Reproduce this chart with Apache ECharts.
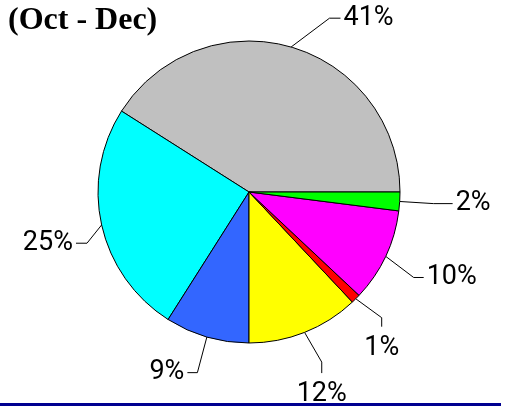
<!DOCTYPE html>
<html>
<head>
<meta charset="utf-8">
<script src="https://cdn.jsdelivr.net/npm/echarts@6/dist/echarts.min.js"></script>
<style>
  html, body { margin: 0; padding: 0; background: #fff; }
  #chart { width: 512px; height: 406px; }
</style>
</head>
<body>
<div id="chart"></div>
<script>
// slices, counter-clockwise from 3 o'clock
const categories = ['Grey', 'Cyan', 'Blue', 'Yellow', 'Red', 'Magenta', 'Green']
const shares = [41, 25, 9, 12, 1, 10, 2]
const colors = ['#C0C0C0', '#00FFFF', '#3366FF', '#FFFF00', '#FF0000', '#FF00FF', '#00FF00']

// leader line tweaks, so the labels sit roughly where the original put them
const leader = {
  Grey:    { length: 30, length2: 11, shift: [30, 0] },
  Cyan:    { length: 15, length2: 11, shift: [0, 15] },
  Blue:    { length: 34, length2: 10, shift: [0, 3] },
  Yellow:  { length: 33, shift: [5, -1], drop: 11 },
  Red:     { length: 31, shift: [4, -3], drop: 9 },
  Magenta: { length: 31, length2: 10, shift: [0, 8] },
  Green:   { length: 34, length2: 19 },
}

const chart = echarts.init(document.getElementById('chart'))

chart.setOption({
  animation: false,
  title: {
    text: '(Oct - Dec)',
    left: 3,
    top: 0,
    textStyle: {
      fontFamily: 'Liberation Serif',
      fontWeight: 'bold',
      fontSize: 32,
      color: '#000',
    },
  },
  graphic: [{
    type: 'line',
    shape: { x1: 0, y1: 404.5, x2: 501, y2: 404.5 },
    style: { stroke: '#000090', lineWidth: 3 },
  }],
  series: [{
    type: 'pie',
    center: [249, 192],
    radius: 151,
    startAngle: 0,
    clockwise: false,
    avoidLabelOverlap: false,
    percentPrecision: 0,
    data: categories.map((name, i) => ({
      name,
      value: shares[i],
      itemStyle: { color: colors[i] },
      labelLine: {
        length: leader[name].length,
        length2: leader[name].length2 || 10,
      },
    })),
    itemStyle: {
      borderColor: '#000',
      borderWidth: 1,
    },
    label: {
      formatter: '{d}%',
      fontFamily: 'Roboto',
      fontSize: 27,
      color: '#000',
    },
    labelLine: {
      lineStyle: { color: '#000', width: 1 },
    },
    labelLayout(params) {
      const pts = params.labelLinePoints
      if (!pts) return {}
      const cfg = leader[categories[params.dataIndex]]
      const [sx, sy] = cfg.shift || [0, 0]
      const kink = [pts[1][0] + sx, pts[1][1] + sy]
      // labels hung under a short vertical tail
      if (cfg.drop) {
        const end = [kink[0], kink[1] + cfg.drop]
        return {
          x: kink[0],
          y: end[1] + 8,
          align: 'center',
          verticalAlign: 'top',
          labelLinePoints: [pts[0], kink, end],
        }
      }
      const end = [pts[2][0] + sx, pts[2][1] + sy]
      const side = end[0] >= kink[0] ? 1 : -1
      return {
        x: end[0] + side * 3,
        y: end[1],
        align: side > 0 ? 'left' : 'right',
        verticalAlign: 'middle',
        labelLinePoints: [pts[0], kink, end],
      }
    },
  }],
})
</script>
</body>
</html>
